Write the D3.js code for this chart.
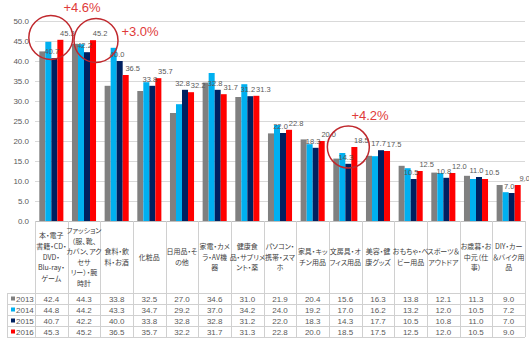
<!DOCTYPE html>
<html><head><meta charset="utf-8">
<script src="https://cdn.jsdelivr.net/npm/d3@7"></script>
<style>
body{margin:0;background:#fff;}
svg{display:block;}
text{font-family:"Liberation Sans",Arial,sans-serif;}
.jp{font-family:"Noto Sans CJK JP",sans-serif;font-feature-settings:"palt";}
</style></head>
<body>
<svg id="c" width="529" height="344"></svg>
<script>
const categories = ["本・電子書籍・CD・DVD・Blu-ray・ゲーム","ファッション（服、靴、カバン、アクセサリー）・腕時計","食料・飲料・お酒","化粧品","日用品・その他","家電・カメラ・AV機器","健康食品・サプリメント・薬","パソコン・携帯・スマホ","家具・キッチン用品","文房具・オフィス用品","美容・健康グッズ","おもちゃ・ベビー用品","スポーツ＆アウトドア","お歳暮・お中元（仕事）","DIY・カー＆バイク用品"];
const categoryLines = [
  ["本・電子","書籍・CD・","DVD・","Blu-ray・","ゲーム"],
  ["ファッション","（服、靴、","カバン、アク","セサ","リー）・腕","時計"],
  ["食料・飲","料・お酒"],
  ["化粧品"],
  ["日用品・そ","の他"],
  ["家電・カメ","ラ・AV機","器"],
  ["健康食","品・サプリメ","ント・薬"],
  ["パソコン・","携帯・スマ","ホ"],
  ["家具・キッ","チン用品"],
  ["文房具・オ","フィス用品"],
  ["美容・健","康グッズ"],
  ["おもちゃ・ベ","ビー用品"],
  ["スポーツ＆","アウトドア"],
  ["お歳暮・お","中元（仕","事）"],
  ["DIY・カー","＆バイク用","品"]
];
const seriesNames = ["2013","2014","2015","2016"];
const v2013 = [42.4,44.3,33.8,32.5,27.0,34.6,31.0,21.9,20.4,15.6,16.3,13.8,12.1,11.3,9.0];
const v2014 = [44.8,44.2,43.3,34.7,29.2,37.0,34.2,24.0,19.2,17.0,16.2,13.2,12.0,10.5,7.2];
const v2015 = [40.7,42.2,40.0,33.8,32.8,32.8,31.2,22.0,18.3,14.3,17.7,10.5,10.8,11.0,7.0];
const v2016 = [45.3,45.2,36.5,35.7,32.2,31.7,31.3,22.8,20.0,18.5,17.5,12.5,12.0,10.5,9.0];
const seriesColors = ["#808080","#00B0F0","#002060","#FF0000"];
const yTicks = [0,5,10,15,20,25,30,35,40,45,50];
const labeledSeries = ["2015","2016"];
const annotations = [
  {cat:"本・電子書籍・CD・DVD・Blu-ray・ゲーム", text:"+4.6%"},
  {cat:"ファッション（服、靴、カバン、アクセサリー）・腕時計", text:"+3.0%"},
  {cat:"文房具・オフィス用品", text:"+4.2%"}
];

const values = [v2013,v2014,v2015,v2016];
const svg = d3.select("#c");
const plotL = 35, plotR = 525, plotT = 21, zeroY = 221;
const x0 = d3.scaleBand().domain(categories).range([plotL,plotR]).padding(0);
const bw = x0.bandwidth();
const x1 = d3.scaleBand().domain(seriesNames).range([4.3,bw-4.3]).padding(0);
const y = d3.scaleLinear().domain([0,50]).range([zeroY,plotT]);

// gridlines
svg.append("g").selectAll("line").data(yTicks.filter(t=>t>0)).join("line")
  .attr("x1",plotL).attr("x2",plotR).attr("y1",d=>y(d)+0.5).attr("y2",d=>y(d)+0.5)
  .attr("stroke","#d9d9d9").attr("stroke-width",1);

// y axis
const yAxis = d3.axisLeft(y).tickValues(yTicks).tickFormat(d3.format(".1f")).tickSize(0).tickPadding(5);
const ya = svg.append("g").attr("transform",`translate(${plotL-1},0)`).call(yAxis);
ya.select(".domain").remove();
ya.selectAll("text").attr("font-size",8).attr("fill","#595959").attr("font-family","Liberation Sans, Arial, sans-serif");

// bars
const groups = svg.append("g").selectAll("g").data(categories).join("g")
  .attr("transform",d=>`translate(${x0(d)},0)`);
groups.selectAll("rect").data((c,i)=>seriesNames.map((s,j)=>({s,j,v:values[j][i]}))).join("rect")
  .attr("x",d=>x1(d.s)).attr("width",x1.bandwidth())
  .attr("y",d=>y(d.v)).attr("height",d=>zeroY-y(d.v))
  .attr("fill",d=>seriesColors[d.j]);

// data labels (top layer)
const labelDx = {"2015":-2.5, "2016":7};
const labData = [];
categories.forEach((c,i)=>seriesNames.forEach((s,j)=>{
  if(labeledSeries.includes(s)) labData.push({c,s,v:values[j][i]});
}));
svg.append("g").selectAll("text").data(labData).join("text")
  .attr("x",d=>x0(d.c)+x1(d.s)+x1.bandwidth()/2 + labelDx[d.s])
  .attr("y",d=>y(d.v)-4)
  .attr("text-anchor","middle").attr("font-size",7.5).attr("fill","#595959")
  .text(d=>d3.format(".1f")(d.v));

// table
const tableTop = 293, rowH = 11, tableLeft = 7;
const tbl = svg.append("g");
tbl.append("line").attr("x1",plotL).attr("x2",plotR).attr("y1",zeroY+0.5).attr("y2",zeroY+0.5).attr("stroke","#bfbfbf");
for(let r=0;r<=seriesNames.length;r++){
  tbl.append("line").attr("x1",tableLeft).attr("x2",plotR).attr("y1",tableTop+r*rowH+0.5).attr("y2",tableTop+r*rowH+0.5).attr("stroke","#d0d0d0");
}
const colEdges = categories.map(c=>x0(c)).concat([plotR]);
tbl.selectAll("line.v").data(colEdges).join("line").attr("class","v")
  .attr("x1",d=>Math.round(d)+0.5).attr("x2",d=>Math.round(d)+0.5)
  .attr("y1",zeroY).attr("y2",tableTop+seriesNames.length*rowH).attr("stroke","#d0d0d0");
tbl.append("line").attr("x1",tableLeft+0.5).attr("x2",tableLeft+0.5).attr("y1",tableTop).attr("y2",tableTop+seriesNames.length*rowH).attr("stroke","#d0d0d0");

// category labels
const lineH = 10.6, labelCenter = 257;
categories.forEach((c,i)=>{
  const lines = categoryLines[i];
  const t = tbl.append("text").attr("class","jp").attr("text-anchor","middle")
    .attr("font-size",7).attr("fill","#404040");
  const y0 = labelCenter - (lines.length-1)*lineH/2 + 2.5;
  lines.forEach((l,k)=>{
    t.append("tspan").attr("x",x0(c)+bw/2).attr("y",y0+k*lineH).text(l);
  });
});

// table rows
seriesNames.forEach((s,j)=>{
  const cy = tableTop + j*rowH + rowH/2;
  tbl.append("rect").attr("x",11).attr("y",cy-2).attr("width",4).attr("height",4).attr("fill",seriesColors[j]);
  tbl.append("text").attr("x",16).attr("y",cy+3).attr("font-size",8).attr("fill","#595959").text(s);
  categories.forEach((c,i)=>{
    tbl.append("text").attr("x",x0(c)+bw/2).attr("y",cy+3).attr("text-anchor","middle")
      .attr("font-size",8).attr("fill","#595959").text(d3.format(".1f")(values[j][i]));
  });
});

// annotations
const annLayout = [
  {dx:-0.5, cy:37.5, r:22, tx:82, ty:12},
  {dx:12, cy:40.5, r:22, tx:140, ty:36},
  {dx:3, cy:147, r:21, tx:370, ty:120}
];
annotations.forEach((a,k)=>{
  const L = annLayout[k];
  const cx = x0(a.cat)+bw/2+L.dx;
  svg.append("ellipse").attr("cx",cx).attr("cy",L.cy).attr("rx",L.r).attr("ry",L.r)
    .attr("fill","none").attr("stroke","#C0282D").attr("stroke-width",1.5);
  svg.append("text").attr("x",L.tx).attr("y",L.ty).attr("text-anchor","middle")
    .attr("font-size",13).attr("fill","#E03A3A").text(a.text);
});
</script>
</body></html>
